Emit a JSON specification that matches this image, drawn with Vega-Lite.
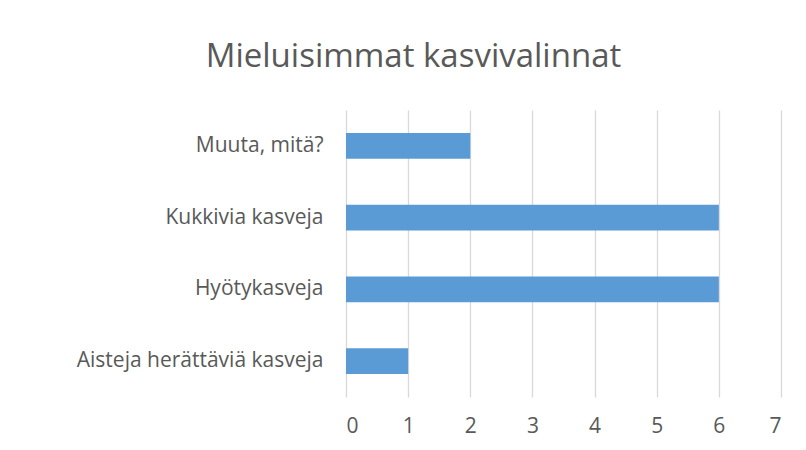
{
  "$schema": "https://vega.github.io/schema/vega-lite/v6.json",
  "width": 435,
  "height": 287,
  "autosize": "none",
  "padding": {"left": 346, "top": 110, "right": 25, "bottom": 53},
  "background": "white",
  "title": {
    "text": "Mieluisimmat kasvivalinnat",
    "font": "Open Sans",
    "fontSize": 33,
    "fontWeight": "normal",
    "color": "#595959",
    "anchor": "middle",
    "dx": -150,
    "offset": 36
  },
  "data": {
    "values": [
      {"category": "Muuta, mitä?", "value": 2},
      {"category": "Kukkivia kasveja", "value": 6},
      {"category": "Hyötykasveja\u00a0", "value": 6},
      {"category": "Aisteja herättäviä kasveja", "value": 1}
    ]
  },
  "mark": {"type": "bar", "color": "#5B9BD5"},
  "encoding": {
    "y": {
      "field": "category",
      "type": "nominal",
      "sort": null,
      "title": null,
      "scale": {"paddingInner": 0.64, "paddingOuter": 0.32},
      "axis": {
        "domain": false,
        "ticks": false,
        "labelPadding": 23,
        "labelFont": "Open Sans",
        "labelFontSize": 21,
        "labelColor": "#595959",
        "labelLimit": 340
      }
    },
    "x": {
      "field": "value",
      "type": "quantitative",
      "title": null,
      "scale": {"domain": [0, 7], "nice": false},
      "axis": {
        "values": [0, 1, 2, 3, 4, 5, 6, 7],
        "domain": false,
        "ticks": false,
        "gridColor": "#D9D9D9",
        "gridWidth": 1.3,
        "labelPadding": 29,
        "labelFont": "Open Sans",
        "labelFontSize": 21,
        "labelColor": "#595959",
        "labelBaseline": "middle"
      }
    }
  },
  "config": {"view": {"stroke": null}}
}
